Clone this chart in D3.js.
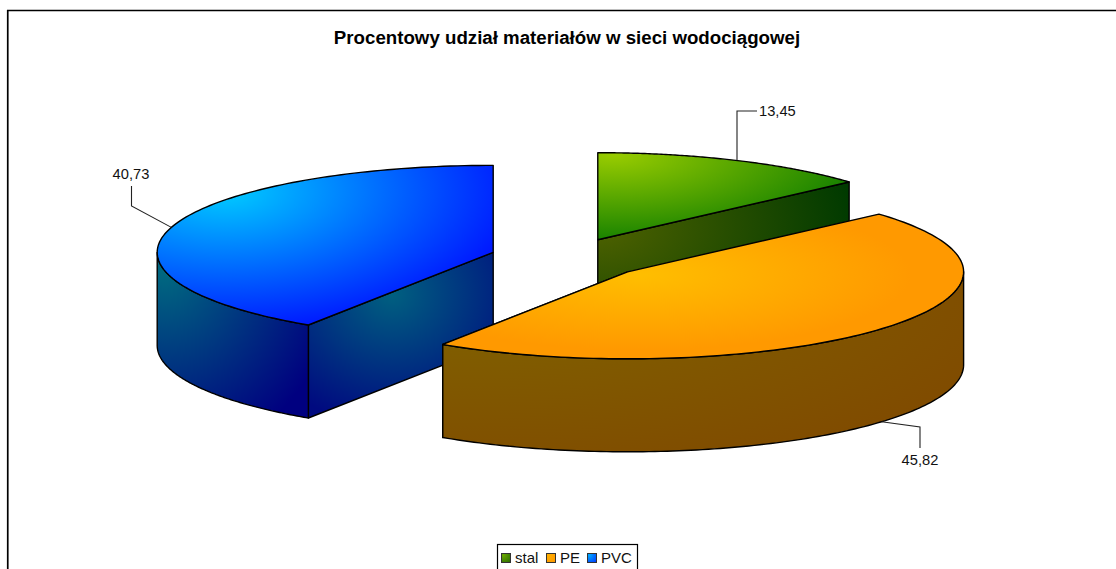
<!DOCTYPE html>
<html>
<head>
<meta charset="utf-8">
<script src="https://cdn.jsdelivr.net/npm/d3@7"></script>
<style>
  html, body { margin: 0; padding: 0; background: #fff; overflow: hidden; }
  svg { display: block; font-family: "Liberation Sans", Arial, sans-serif; }
</style>
</head>
<body>
<svg width="1116" height="569"></svg>
<script>
const categories = ['stal', 'PE', 'PVC'];
const values = [13.45, 45.82, 40.73];
const valueLabels = ['13,45', '45,82', '40,73'];
const titleText = 'Procentowy udział materiałów w sieci wodociągowej';

const svg = d3.select('svg');
const defs = svg.append('defs');

// pie geometry
const cx = 566, cy = 258;
const rx = 336, ry = 87;
const depth = 93;
const explode = [77.5, 81.5, 76];

// gradients for each slice: colours, then centre x, centre y and radius in bounding box units
const fills = [
  { top: ['#99cc00', '#148000', .06, .02, 1.02], outer: ['#4d6600', '#003300', .05, .1, 1.15], cut: ['#4f6200', '#003a00', 0, .3, 1.02], legend: ['#6aa800', '#2f7000'] },
  { top: ['#ffbe00', '#ff9900', .38, .42, .52], outer: ['#806400', '#804a00', .05, .1, 1.15], cut: ['#806400', '#804a00', .35, .2, .85], legend: ['#ffb000', '#ff9900'] },
  { top: ['#00ccff', '#0010ff', .2, .16, .92], outer: ['#006a80', '#000080', .05, .1, 1.15], cut: ['#006080', '#000a80', .45, .25, .8], legend: ['#00aaff', '#0040ff'] }
];

const radial = (id, [c0, c1, fx, fy, r]) => {
  const g = defs.append('radialGradient').attr('id', id)
    .attr('cx', fx).attr('cy', fy).attr('r', r);
  g.append('stop').attr('offset', 0).attr('stop-color', c0);
  g.append('stop').attr('offset', 1).attr('stop-color', c1);
};
fills.forEach((f, i) => {
  radial(`top${i}`, f.top);
  radial(`outer${i}`, f.outer);
  radial(`cut${i}`, f.cut);
  radial(`leg${i}`, [f.legend[0], f.legend[1], .2, .2, 1]);
});

const pie = d3.pie().sort(null).value(d => d);
const slices = pie(values);

// point on the tilted ellipse, angle 0 is up and goes clockwise (same as d3.pie)
const pt = (c, a, dz = 0) => [c[0] + rx * Math.sin(a), c[1] - ry * Math.cos(a) + dz];
const line = d3.line();

const arcPoints = (c, a0, a1, dz = 0) =>
  d3.range(0, 121).map(i => pt(c, a0 + (a1 - a0) * i / 120, dz));

const centers = slices.map((s, i) => {
  const mid = (s.startAngle + s.endAngle) / 2;
  return [cx + explode[i] * Math.sin(mid), cy - explode[i] * (ry / rx) * Math.cos(mid)];
});

const chart = svg.append('g')
  .attr('stroke', '#000')
  .attr('stroke-width', 1.4)
  .attr('stroke-linejoin', 'round');

const drawSlice = i => {
  const s = slices[i], c = centers[i];
  const g = chart.append('g');

  // radial cut wall that faces the viewer
  const cutAngles = [s.startAngle, s.endAngle].filter(a => Math.sin(a) < -1e-6 || (Math.sin(a) > 1e-6 && Math.cos(a) > 0 && i === 0));
  cutAngles.forEach(a => {
    const p = pt(c, a);
    g.append('path')
      .attr('d', line([c, p, [p[0], p[1] + depth], [c[0], c[1] + depth]]) + 'Z')
      .attr('fill', `url(#cut${i})`);
  });

  // outer wall, only the front half of the rim (90deg to 270deg)
  const a0 = Math.max(s.startAngle, Math.PI / 2);
  const a1 = Math.min(s.endAngle, Math.PI * 1.5);
  if (a1 > a0) {
    const upper = arcPoints(c, a0, a1);
    const lower = arcPoints(c, a1, a0, depth);
    g.append('path')
      .attr('d', line(upper.concat(lower)) + 'Z')
      .attr('fill', `url(#outer${i})`);
  }

  // top face
  const rim = arcPoints(c, s.startAngle, s.endAngle);
  g.append('path')
    .attr('d', line([c].concat(rim)) + 'Z')
    .attr('fill', `url(#top${i})`);
};

[0, 2, 1].forEach(drawSlice);

// frame, open on the right and the bottom like the reference
svg.append('path')
  .attr('d', 'M7.75,569V10.5H1116')
  .attr('fill', 'none')
  .attr('stroke', '#000')
  .attr('stroke-width', 1.7);

svg.append('text')
  .attr('x', 567).attr('y', 44)
  .attr('text-anchor', 'middle')
  .attr('font-size', 18.7)
  .attr('font-weight', 'bold')
  .attr('fill', '#000')
  .text(titleText);

// leader lines start on the rim at the slice mid-angle
const leaders = [
  { i: 0, elbow: [[737, 111], [757, 111]], anchor: 'start', tx: 759, ty: 116 },
  { i: 1, elbow: [[920, 427], [920, 448]], anchor: 'middle', tx: 920, ty: 465 },
  { i: 2, elbow: [[131.5, 206], [131.5, 186]], anchor: 'middle', tx: 131, ty: 179 }
];
leaders.forEach(l => {
  const s = slices[l.i];
  const mid = (s.startAngle + s.endAngle) / 2;
  const start = pt(centers[l.i], mid, l.i === 1 ? depth : 0);
  const first = l.i === 0 ? [l.elbow[0][0], start[1]] : start;
  svg.append('path')
    .attr('d', line([first].concat(l.elbow)))
    .attr('fill', 'none')
    .attr('stroke', '#222')
    .attr('stroke-width', 1.1);
  svg.append('text')
    .attr('x', l.tx).attr('y', l.ty)
    .attr('text-anchor', l.anchor)
    .attr('font-size', 14.7)
    .attr('fill', '#111')
    .text(valueLabels[l.i]);
});

// legend
const legend = svg.append('g').attr('transform', 'translate(497,544)');
legend.append('rect')
  .attr('x', .5).attr('y', .5)
  .attr('width', 140).attr('height', 30)
  .attr('fill', '#fff').attr('stroke', '#000').attr('stroke-width', 1.2);
const legendPos = [4, 49, 90];
categories.forEach((c, i) => {
  legend.append('rect')
    .attr('x', legendPos[i] + .5).attr('y', 9.5)
    .attr('width', 9).attr('height', 9)
    .attr('fill', `url(#leg${i})`)
    .attr('stroke', '#333').attr('stroke-width', 1);
  legend.append('text')
    .attr('x', legendPos[i] + 14).attr('y', 19)
    .attr('font-size', 15)
    .attr('fill', '#111')
    .text(c);
});
</script>
</body>
</html>
